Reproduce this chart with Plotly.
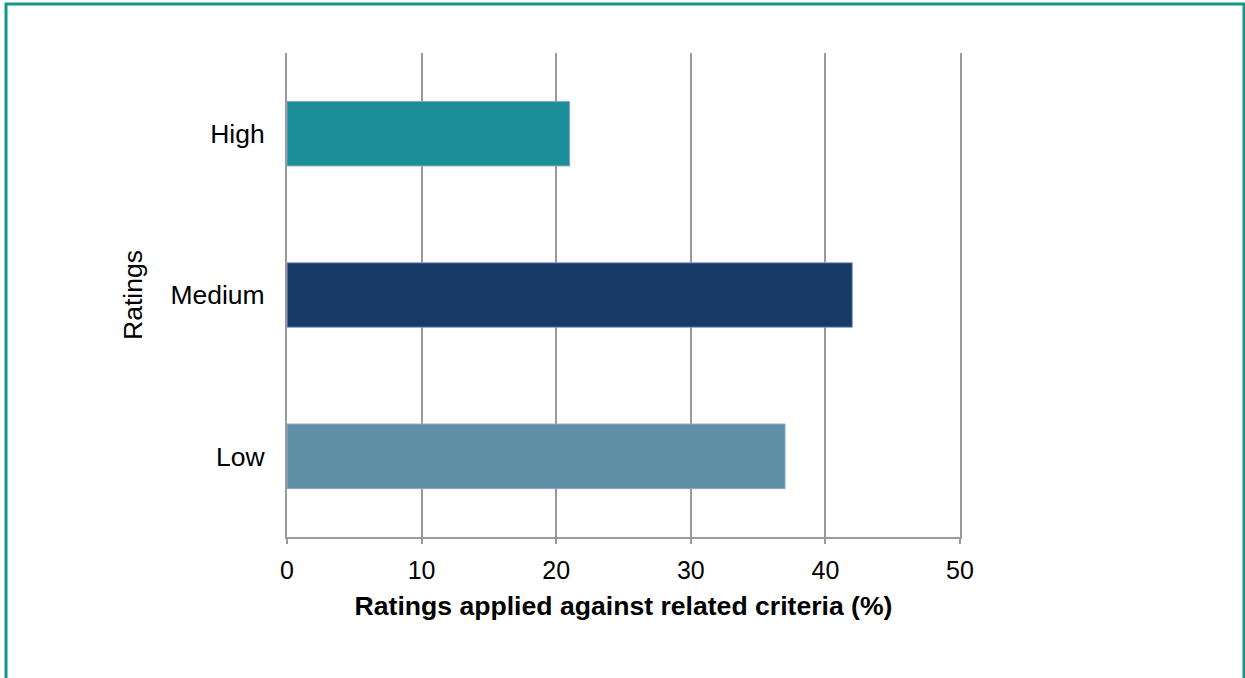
import plotly.graph_objects as go

# Share of ratings applied against related criteria
categories = ["High", "Medium", "Low"]
values = [21, 42, 37]
bar_colors = ["#1a8f98", "#173a66", "#6090a8"]
x_ticks = [0, 10, 20, 30, 40, 50]

FONT = "Liberation Sans, Arial, sans-serif"
GRID = "#9a9a9a"

fig = go.Figure(
    go.Bar(
        y=categories,
        x=values,
        orientation="h",
        width=0.4,
        marker=dict(color=bar_colors, line=dict(color="#8aa3cf", width=1)),
        hoverinfo="x+y",
    )
)

fig.update_layout(
    width=1245,
    height=678,
    margin=dict(l=287, r=285, t=53, b=141),
    paper_bgcolor="white",
    plot_bgcolor="white",
    showlegend=False,
    font=dict(family=FONT, color="#000000"),
    xaxis=dict(
        range=[0, 50],
        tickvals=x_ticks,
        ticktext=[str(t) for t in x_ticks],
        tickfont=dict(size=25),
        showgrid=True,
        gridcolor=GRID,
        gridwidth=2,
        zeroline=False,
        showline=True,
        linecolor=GRID,
        linewidth=2,
        ticks="outside",
        ticklen=5,
        tickwidth=2,
        tickcolor=GRID,
        ticklabelstandoff=5,
        title=dict(
            text="<b>Ratings applied against related criteria (%)</b>",
            font=dict(size=26.6),
            standoff=13,
        ),
        fixedrange=True,
    ),
    yaxis=dict(
        categoryorder="array",
        categoryarray=categories[::-1],
        tickfont=dict(size=26.5),
        showgrid=False,
        zeroline=False,
        # left and right vertical rules at 0 and 50
        showline=True,
        mirror=True,
        linecolor=GRID,
        linewidth=2,
        ticks="",
        ticklabelstandoff=15,
        title=dict(text="Ratings", font=dict(size=26.5), standoff=20),
        fixedrange=True,
    ),
    shapes=[
        # teal frame around the chart (left, top, right)
        dict(
            type="path",
            xref="paper",
            yref="paper",
            path="M -0.4175,-0.5 L -0.4175,1.1012 L 1.4220,1.1012 L 1.4220,-0.5",
            line=dict(color="#12998b", width=3),
            layer="above",
        )
    ],
)

fig.write_html("out.html")
